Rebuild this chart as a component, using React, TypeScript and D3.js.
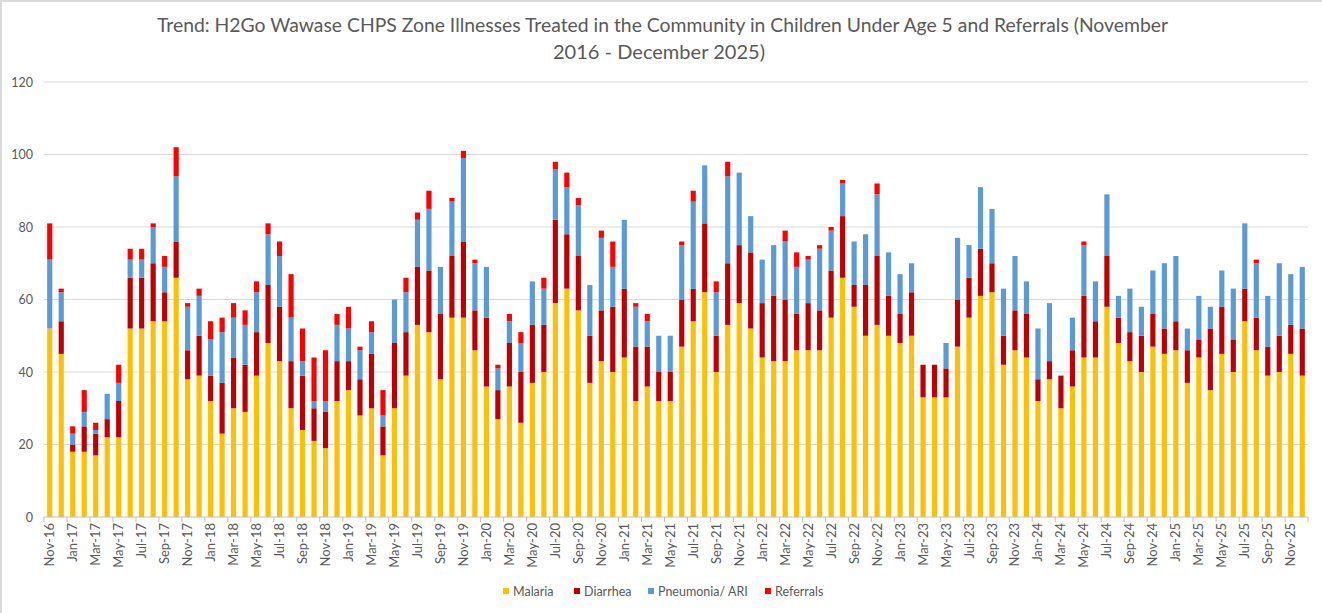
import React from "react";
import * as d3 from "d3";

const months = [
  "Nov-16","Dec-16",
  "Jan-17","Feb-17","Mar-17","Apr-17","May-17","Jun-17","Jul-17","Aug-17","Sep-17","Oct-17","Nov-17","Dec-17",
  "Jan-18","Feb-18","Mar-18","Apr-18","May-18","Jun-18","Jul-18","Aug-18","Sep-18","Oct-18","Nov-18","Dec-18",
  "Jan-19","Feb-19","Mar-19","Apr-19","May-19","Jun-19","Jul-19","Aug-19","Sep-19","Oct-19","Nov-19","Dec-19",
  "Jan-20","Feb-20","Mar-20","Apr-20","May-20","Jun-20","Jul-20","Aug-20","Sep-20","Oct-20","Nov-20","Dec-20",
  "Jan-21","Feb-21","Mar-21","Apr-21","May-21","Jun-21","Jul-21","Aug-21","Sep-21","Oct-21","Nov-21","Dec-21",
  "Jan-22","Feb-22","Mar-22","Apr-22","May-22","Jun-22","Jul-22","Aug-22","Sep-22","Oct-22","Nov-22","Dec-22",
  "Jan-23","Feb-23","Mar-23","Apr-23","May-23","Jun-23","Jul-23","Aug-23","Sep-23","Oct-23","Nov-23","Dec-23",
  "Jan-24","Feb-24","Mar-24","Apr-24","May-24","Jun-24","Jul-24","Aug-24","Sep-24","Oct-24","Nov-24","Dec-24",
  "Jan-25","Feb-25","Mar-25","Apr-25","May-25","Jun-25","Jul-25","Aug-25","Sep-25","Oct-25","Nov-25","Dec-25",
];

const malaria = [
  52,45,18,18,17,22,22,52,52,54,54,66,
  38,39,32,23,30,29,39,48,43,30,24,21,
  19,32,35,28,30,17,30,39,53,51,38,55,
  55,46,36,27,36,26,37,40,59,63,57,37,
  43,40,44,32,36,32,32,47,54,62,40,53,
  59,52,44,43,43,46,46,46,55,66,58,50,
  53,50,48,50,33,33,33,47,55,61,62,42,
  46,44,32,38,30,36,44,44,58,48,43,40,
  47,45,46,37,44,35,45,40,54,46,39,40,
  45,39,
];
const diarrhea = [
  0,9,2,7,6,5,10,14,14,16,8,10,
  8,11,7,14,14,13,12,16,15,13,15,9,
  10,11,8,10,15,8,18,12,16,17,18,17,
  21,11,19,8,12,14,16,13,23,15,15,13,
  14,18,19,15,11,8,8,13,9,19,10,17,
  16,21,15,18,17,10,13,11,13,17,6,14,
  19,11,8,12,9,9,8,13,11,13,8,8,
  11,12,6,5,9,10,17,10,14,7,8,10,
  9,7,8,9,5,17,13,9,9,9,8,10,
  8,13,
];
const pneumonia = [
  19,8,3,4,1,7,5,5,5,10,7,18,
  12,11,10,14,11,11,11,14,14,12,4,2,
  3,10,9,8,6,3,12,11,13,17,13,15,
  23,13,14,6,6,8,12,10,14,13,14,14,
  20,11,19,11,7,10,10,15,24,16,12,24,
  20,10,12,14,16,13,12,17,11,9,12,14,
  17,12,11,8,0,0,7,17,9,17,15,13,
  15,9,14,16,0,9,14,11,17,6,12,8,
  12,18,18,6,12,6,10,14,18,15,14,20,
  14,17,
];
const referrals = [
  10,1,2,6,2,0,5,3,3,1,3,8,
  1,2,5,4,4,4,3,3,4,12,9,12,
  14,3,6,1,3,7,0,4,2,5,0,1,
  2,1,0,1,2,3,0,3,2,4,2,0,
  2,7,0,1,2,0,0,1,3,0,3,4,
  0,0,0,0,3,4,1,1,1,1,0,0,
  3,0,0,0,0,0,0,0,0,0,0,0,
  0,0,0,0,0,0,1,0,0,0,0,0,
  0,0,0,0,0,0,0,0,0,1,0,0,
  0,0,
];

const seriesNames = ["Malaria", "Diarrhea", "Pneumonia/ ARI", "Referrals"];
const seriesColors = ["#FFC000", "#C00000", "#5B9BD5", "#FF0000"];
const yTicks = [0, 20, 40, 60, 80, 100, 120];
const titleLines = [
  "Trend: H2Go Wawase CHPS Zone Illnesses Treated in the Community in Children Under Age 5 and Referrals (November",
  "2016 - December 2025)",
];

const W = 1322;
const H = 613;
const FONT = "Lato, 'Open Sans', sans-serif";
const TXT = "#595959";

export default function App() {
  const table = months.map((m, i) => ({
    month: m,
    Malaria: malaria[i],
    Diarrhea: diarrhea[i],
    "Pneumonia/ ARI": pneumonia[i],
    Referrals: referrals[i],
  }));
  const stacked = d3.stack<any>().keys(seriesNames)(table);

  const x = d3
    .scaleBand<string>()
    .domain(months)
    .range([44, 1308])
    .paddingInner(0.55)
    .paddingOuter(0.275);
  const y = d3.scaleLinear().domain([0, 120]).range([517, 82]);
  const step = x.step();
  const x0 = 44;

  const tickIdx = d3.range(0, months.length + 1, 2);

  const legendX = [503, 574, 648, 765];

  return (
    <svg
      width={W}
      height={H}
      style={{ position: "absolute", left: 0, top: 0, background: "#fff" }}
      fontFamily={FONT}
    >
      <rect x={0} y={0} width={W} height={H} fill="#fff" />
      <line x1={0} x2={W} y1={1} y2={1} stroke="#d9d9d9" strokeWidth={2} />
      <line x1={1} x2={1} y1={0} y2={H} stroke="#d9d9d9" strokeWidth={2} />
      {titleLines.map((t, i) => (
        <text
          key={i}
          x={i === 0 ? 157 : 553}
          y={i === 0 ? 32 : 59}
          fontSize={18.5}
          fill={TXT}
          textLength={i === 0 ? 1011 : 212}
          lengthAdjust="spacingAndGlyphs"
        >
          {t}
        </text>
      ))}
      {yTicks.map((t) => (
        <g key={t}>
          {t > 0 && (
            <line x1={44} x2={1308} y1={y(t)} y2={y(t)} stroke="#d9d9d9" strokeWidth={1} />
          )}
          <text x={33} y={y(t) + 4.5} textAnchor="end" fontSize={12.5} fill={TXT}>
            {t}
          </text>
        </g>
      ))}
      {stacked.map((s, si) => (
        <g key={s.key} fill={seriesColors[si]}>
          {s.map((d, i) => {
            const h = y(d[0]) - y(d[1]);
            if (h <= 0) return null;
            return (
              <rect
                key={i}
                x={x(months[i])}
                y={y(d[1])}
                width={x.bandwidth()}
                height={h}
              />
            );
          })}
        </g>
      ))}
      <line x1={44} x2={1308} y1={y(0)} y2={y(0)} stroke="#bfbfbf" strokeWidth={1} />
      {tickIdx.map((i) => (
        <line
          key={i}
          x1={x0 + i * step}
          x2={x0 + i * step}
          y1={y(0)}
          y2={y(0) + 5}
          stroke="#bfbfbf"
          strokeWidth={1}
        />
      ))}
      {months.map((m, i) =>
        i % 2 === 0 ? (
          <text
            key={m}
            transform={`translate(${(x(m) as number) + x.bandwidth() / 2 + 4.5},${y(0) + 6}) rotate(-90)`}
            textAnchor="end"
            fontSize={13}
            fill={TXT}
          >
            {m}
          </text>
        ) : null
      )}
      {seriesNames.map((n, i) => (
        <g key={n}>
          <rect x={legendX[i]} y={588} width={6} height={6} fill={seriesColors[i]} />
          <text x={legendX[i] + 10} y={595.5} fontSize={12.5} fill={TXT}>
            {n}
          </text>
        </g>
      ))}
    </svg>
  );
}
